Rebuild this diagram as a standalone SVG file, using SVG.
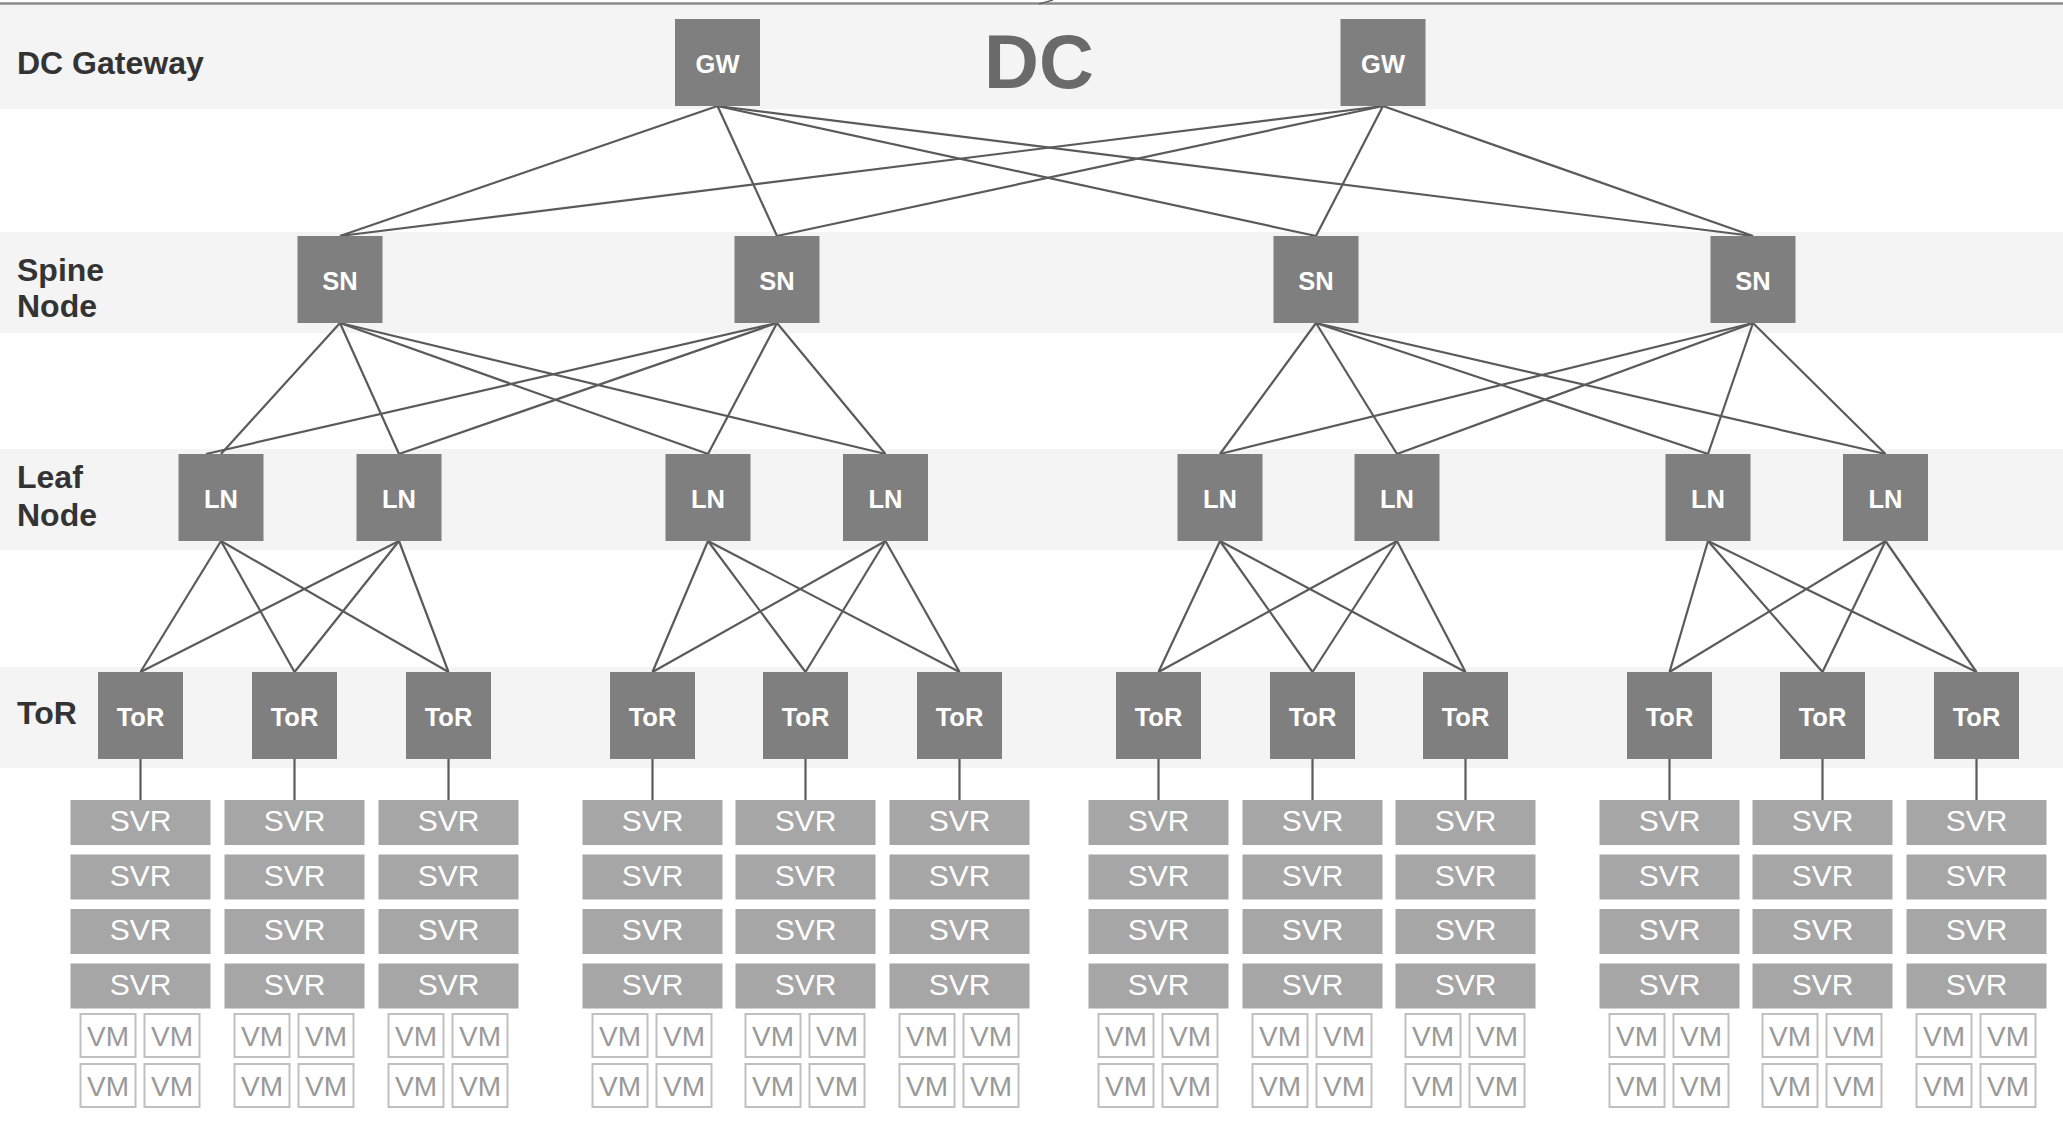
<svg xmlns="http://www.w3.org/2000/svg" width="2063" height="1140" viewBox="0 0 2063 1140">
<style>
.band{fill:#f4f4f4}
.lbl{font-family:"Liberation Sans",Arial,sans-serif;font-weight:bold;font-size:32px;fill:#333333}
.nb{fill:#7f7f7f}
.nt{font-family:"Liberation Sans",Arial,sans-serif;font-weight:bold;font-size:25.5px;fill:#ffffff;text-anchor:middle}
.sb{fill:#a6a6a6}
.st{font-family:"Liberation Sans",Arial,sans-serif;font-size:30px;fill:#ffffff;text-anchor:middle}
.vb{fill:#ffffff;stroke:#c0c0c0;stroke-width:2}
.vt{font-family:"Liberation Sans",Arial,sans-serif;font-size:28px;fill:#999999;text-anchor:middle}
.ln{stroke:#5a5a5a;stroke-width:2.2;fill:none}
</style>
<rect width="2063" height="1140" fill="#ffffff"/>
<g id="bands">
<rect class="band" x="0" y="5" width="2063" height="104"/>
<rect class="band" x="0" y="232" width="2063" height="101"/>
<rect class="band" x="0" y="449" width="2063" height="101"/>
<rect class="band" x="0" y="667" width="2063" height="101"/>
<line x1="0" y1="3.5" x2="2063" y2="3.5" stroke="#8a8a8a" stroke-width="2.5"/>
<line x1="1039" y1="4" x2="1053" y2="0" stroke="#666666" stroke-width="1.5"/>
</g>
<g id="labels">
<text class="lbl" x="17" y="74">DC Gateway</text>
<text class="lbl" x="17" y="281">Spine</text>
<text class="lbl" x="17" y="317">Node</text>
<text class="lbl" x="17" y="488">Leaf</text>
<text class="lbl" x="17" y="526">Node</text>
<text class="lbl" x="17" y="724">ToR</text>
<text x="1039" y="88" font-family="Liberation Sans,Arial,sans-serif" font-weight="bold" font-size="76" fill="#6a6a6a" text-anchor="middle">DC</text>
</g>
<g id="connectors">
<line class="ln" x1="717.5" y1="106" x2="340" y2="236"/>
<line class="ln" x1="717.5" y1="106" x2="777" y2="236"/>
<line class="ln" x1="717.5" y1="106" x2="1316" y2="236"/>
<line class="ln" x1="717.5" y1="106" x2="1753" y2="236"/>
<line class="ln" x1="1383" y1="106" x2="340" y2="236"/>
<line class="ln" x1="1383" y1="106" x2="777" y2="236"/>
<line class="ln" x1="1383" y1="106" x2="1316" y2="236"/>
<line class="ln" x1="1383" y1="106" x2="1753" y2="236"/>
<line class="ln" x1="340" y1="323" x2="221" y2="454"/>
<line class="ln" x1="340" y1="323" x2="399" y2="454"/>
<line class="ln" x1="340" y1="323" x2="708" y2="454"/>
<line class="ln" x1="340" y1="323" x2="885.5" y2="454"/>
<line class="ln" x1="777" y1="323" x2="206" y2="454"/>
<line class="ln" x1="777" y1="323" x2="399" y2="454"/>
<line class="ln" x1="777" y1="323" x2="708" y2="454"/>
<line class="ln" x1="777" y1="323" x2="885.5" y2="454"/>
<line class="ln" x1="1316" y1="323" x2="1220" y2="454"/>
<line class="ln" x1="1316" y1="323" x2="1397" y2="454"/>
<line class="ln" x1="1316" y1="323" x2="1708" y2="454"/>
<line class="ln" x1="1316" y1="323" x2="1885.5" y2="454"/>
<line class="ln" x1="1753" y1="323" x2="1220" y2="454"/>
<line class="ln" x1="1753" y1="323" x2="1397" y2="454"/>
<line class="ln" x1="1753" y1="323" x2="1708" y2="454"/>
<line class="ln" x1="1753" y1="323" x2="1885.5" y2="454"/>
<line class="ln" x1="221" y1="541" x2="140.5" y2="672"/>
<line class="ln" x1="221" y1="541" x2="294.5" y2="672"/>
<line class="ln" x1="221" y1="541" x2="448.5" y2="672"/>
<line class="ln" x1="399" y1="541" x2="140.5" y2="672"/>
<line class="ln" x1="399" y1="541" x2="294.5" y2="672"/>
<line class="ln" x1="399" y1="541" x2="448.5" y2="672"/>
<line class="ln" x1="708" y1="541" x2="652.5" y2="672"/>
<line class="ln" x1="708" y1="541" x2="805.5" y2="672"/>
<line class="ln" x1="708" y1="541" x2="959.5" y2="672"/>
<line class="ln" x1="885.5" y1="541" x2="652.5" y2="672"/>
<line class="ln" x1="885.5" y1="541" x2="805.5" y2="672"/>
<line class="ln" x1="885.5" y1="541" x2="959.5" y2="672"/>
<line class="ln" x1="1220" y1="541" x2="1158.5" y2="672"/>
<line class="ln" x1="1220" y1="541" x2="1312.5" y2="672"/>
<line class="ln" x1="1220" y1="541" x2="1465.5" y2="672"/>
<line class="ln" x1="1397" y1="541" x2="1158.5" y2="672"/>
<line class="ln" x1="1397" y1="541" x2="1312.5" y2="672"/>
<line class="ln" x1="1397" y1="541" x2="1465.5" y2="672"/>
<line class="ln" x1="1708" y1="541" x2="1669.5" y2="672"/>
<line class="ln" x1="1708" y1="541" x2="1822.5" y2="672"/>
<line class="ln" x1="1708" y1="541" x2="1976.5" y2="672"/>
<line class="ln" x1="1885.5" y1="541" x2="1669.5" y2="672"/>
<line class="ln" x1="1885.5" y1="541" x2="1822.5" y2="672"/>
<line class="ln" x1="1885.5" y1="541" x2="1976.5" y2="672"/>
<line class="ln" x1="140.5" y1="759" x2="140.5" y2="800"/>
<line class="ln" x1="294.5" y1="759" x2="294.5" y2="800"/>
<line class="ln" x1="448.5" y1="759" x2="448.5" y2="800"/>
<line class="ln" x1="652.5" y1="759" x2="652.5" y2="800"/>
<line class="ln" x1="805.5" y1="759" x2="805.5" y2="800"/>
<line class="ln" x1="959.5" y1="759" x2="959.5" y2="800"/>
<line class="ln" x1="1158.5" y1="759" x2="1158.5" y2="800"/>
<line class="ln" x1="1312.5" y1="759" x2="1312.5" y2="800"/>
<line class="ln" x1="1465.5" y1="759" x2="1465.5" y2="800"/>
<line class="ln" x1="1669.5" y1="759" x2="1669.5" y2="800"/>
<line class="ln" x1="1822.5" y1="759" x2="1822.5" y2="800"/>
<line class="ln" x1="1976.5" y1="759" x2="1976.5" y2="800"/>
</g>
<g id="gw-1"><rect class="nb" x="675" y="19" width="85" height="87"/><text class="nt" x="717.5" y="73">GW</text></g>
<g id="gw-2"><rect class="nb" x="1340.5" y="19" width="85" height="87"/><text class="nt" x="1383" y="73">GW</text></g>
<g id="sn-1"><rect class="nb" x="297.5" y="236" width="85" height="87"/><text class="nt" x="340" y="290">SN</text></g>
<g id="sn-2"><rect class="nb" x="734.5" y="236" width="85" height="87"/><text class="nt" x="777" y="290">SN</text></g>
<g id="sn-3"><rect class="nb" x="1273.5" y="236" width="85" height="87"/><text class="nt" x="1316" y="290">SN</text></g>
<g id="sn-4"><rect class="nb" x="1710.5" y="236" width="85" height="87"/><text class="nt" x="1753" y="290">SN</text></g>
<g id="ln-1"><rect class="nb" x="178.5" y="454" width="85" height="87"/><text class="nt" x="221" y="508">LN</text></g>
<g id="ln-2"><rect class="nb" x="356.5" y="454" width="85" height="87"/><text class="nt" x="399" y="508">LN</text></g>
<g id="ln-3"><rect class="nb" x="665.5" y="454" width="85" height="87"/><text class="nt" x="708" y="508">LN</text></g>
<g id="ln-4"><rect class="nb" x="843" y="454" width="85" height="87"/><text class="nt" x="885.5" y="508">LN</text></g>
<g id="ln-5"><rect class="nb" x="1177.5" y="454" width="85" height="87"/><text class="nt" x="1220" y="508">LN</text></g>
<g id="ln-6"><rect class="nb" x="1354.5" y="454" width="85" height="87"/><text class="nt" x="1397" y="508">LN</text></g>
<g id="ln-7"><rect class="nb" x="1665.5" y="454" width="85" height="87"/><text class="nt" x="1708" y="508">LN</text></g>
<g id="ln-8"><rect class="nb" x="1843" y="454" width="85" height="87"/><text class="nt" x="1885.5" y="508">LN</text></g>
<g id="tor-1"><rect class="nb" x="98" y="672" width="85" height="87"/><text class="nt" x="140.5" y="726">ToR</text></g>
<g id="tor-2"><rect class="nb" x="252" y="672" width="85" height="87"/><text class="nt" x="294.5" y="726">ToR</text></g>
<g id="tor-3"><rect class="nb" x="406" y="672" width="85" height="87"/><text class="nt" x="448.5" y="726">ToR</text></g>
<g id="tor-4"><rect class="nb" x="610" y="672" width="85" height="87"/><text class="nt" x="652.5" y="726">ToR</text></g>
<g id="tor-5"><rect class="nb" x="763" y="672" width="85" height="87"/><text class="nt" x="805.5" y="726">ToR</text></g>
<g id="tor-6"><rect class="nb" x="917" y="672" width="85" height="87"/><text class="nt" x="959.5" y="726">ToR</text></g>
<g id="tor-7"><rect class="nb" x="1116" y="672" width="85" height="87"/><text class="nt" x="1158.5" y="726">ToR</text></g>
<g id="tor-8"><rect class="nb" x="1270" y="672" width="85" height="87"/><text class="nt" x="1312.5" y="726">ToR</text></g>
<g id="tor-9"><rect class="nb" x="1423" y="672" width="85" height="87"/><text class="nt" x="1465.5" y="726">ToR</text></g>
<g id="tor-10"><rect class="nb" x="1627" y="672" width="85" height="87"/><text class="nt" x="1669.5" y="726">ToR</text></g>
<g id="tor-11"><rect class="nb" x="1780" y="672" width="85" height="87"/><text class="nt" x="1822.5" y="726">ToR</text></g>
<g id="tor-12"><rect class="nb" x="1934" y="672" width="85" height="87"/><text class="nt" x="1976.5" y="726">ToR</text></g>
<g id="rack-1">
<g id="svr-1-1"><rect class="sb" x="70.5" y="800" width="140" height="45"/><text class="st" x="140.5" y="831">SVR</text></g>
<g id="svr-1-2"><rect class="sb" x="70.5" y="854.5" width="140" height="45"/><text class="st" x="140.5" y="885.5">SVR</text></g>
<g id="svr-1-3"><rect class="sb" x="70.5" y="909" width="140" height="45"/><text class="st" x="140.5" y="940">SVR</text></g>
<g id="svr-1-4"><rect class="sb" x="70.5" y="963.5" width="140" height="45"/><text class="st" x="140.5" y="994.5">SVR</text></g>
<g id="vm-1-1"><rect class="vb" x="80.5" y="1014" width="55" height="43"/><text class="vt" x="108" y="1046">VM</text></g>
<g id="vm-1-2"><rect class="vb" x="144.5" y="1014" width="55" height="43"/><text class="vt" x="172" y="1046">VM</text></g>
<g id="vm-1-3"><rect class="vb" x="80.5" y="1064" width="55" height="43"/><text class="vt" x="108" y="1096">VM</text></g>
<g id="vm-1-4"><rect class="vb" x="144.5" y="1064" width="55" height="43"/><text class="vt" x="172" y="1096">VM</text></g>
</g>
<g id="rack-2">
<g id="svr-2-1"><rect class="sb" x="224.5" y="800" width="140" height="45"/><text class="st" x="294.5" y="831">SVR</text></g>
<g id="svr-2-2"><rect class="sb" x="224.5" y="854.5" width="140" height="45"/><text class="st" x="294.5" y="885.5">SVR</text></g>
<g id="svr-2-3"><rect class="sb" x="224.5" y="909" width="140" height="45"/><text class="st" x="294.5" y="940">SVR</text></g>
<g id="svr-2-4"><rect class="sb" x="224.5" y="963.5" width="140" height="45"/><text class="st" x="294.5" y="994.5">SVR</text></g>
<g id="vm-2-1"><rect class="vb" x="234.5" y="1014" width="55" height="43"/><text class="vt" x="262" y="1046">VM</text></g>
<g id="vm-2-2"><rect class="vb" x="298.5" y="1014" width="55" height="43"/><text class="vt" x="326" y="1046">VM</text></g>
<g id="vm-2-3"><rect class="vb" x="234.5" y="1064" width="55" height="43"/><text class="vt" x="262" y="1096">VM</text></g>
<g id="vm-2-4"><rect class="vb" x="298.5" y="1064" width="55" height="43"/><text class="vt" x="326" y="1096">VM</text></g>
</g>
<g id="rack-3">
<g id="svr-3-1"><rect class="sb" x="378.5" y="800" width="140" height="45"/><text class="st" x="448.5" y="831">SVR</text></g>
<g id="svr-3-2"><rect class="sb" x="378.5" y="854.5" width="140" height="45"/><text class="st" x="448.5" y="885.5">SVR</text></g>
<g id="svr-3-3"><rect class="sb" x="378.5" y="909" width="140" height="45"/><text class="st" x="448.5" y="940">SVR</text></g>
<g id="svr-3-4"><rect class="sb" x="378.5" y="963.5" width="140" height="45"/><text class="st" x="448.5" y="994.5">SVR</text></g>
<g id="vm-3-1"><rect class="vb" x="388.5" y="1014" width="55" height="43"/><text class="vt" x="416" y="1046">VM</text></g>
<g id="vm-3-2"><rect class="vb" x="452.5" y="1014" width="55" height="43"/><text class="vt" x="480" y="1046">VM</text></g>
<g id="vm-3-3"><rect class="vb" x="388.5" y="1064" width="55" height="43"/><text class="vt" x="416" y="1096">VM</text></g>
<g id="vm-3-4"><rect class="vb" x="452.5" y="1064" width="55" height="43"/><text class="vt" x="480" y="1096">VM</text></g>
</g>
<g id="rack-4">
<g id="svr-4-1"><rect class="sb" x="582.5" y="800" width="140" height="45"/><text class="st" x="652.5" y="831">SVR</text></g>
<g id="svr-4-2"><rect class="sb" x="582.5" y="854.5" width="140" height="45"/><text class="st" x="652.5" y="885.5">SVR</text></g>
<g id="svr-4-3"><rect class="sb" x="582.5" y="909" width="140" height="45"/><text class="st" x="652.5" y="940">SVR</text></g>
<g id="svr-4-4"><rect class="sb" x="582.5" y="963.5" width="140" height="45"/><text class="st" x="652.5" y="994.5">SVR</text></g>
<g id="vm-4-1"><rect class="vb" x="592.5" y="1014" width="55" height="43"/><text class="vt" x="620" y="1046">VM</text></g>
<g id="vm-4-2"><rect class="vb" x="656.5" y="1014" width="55" height="43"/><text class="vt" x="684" y="1046">VM</text></g>
<g id="vm-4-3"><rect class="vb" x="592.5" y="1064" width="55" height="43"/><text class="vt" x="620" y="1096">VM</text></g>
<g id="vm-4-4"><rect class="vb" x="656.5" y="1064" width="55" height="43"/><text class="vt" x="684" y="1096">VM</text></g>
</g>
<g id="rack-5">
<g id="svr-5-1"><rect class="sb" x="735.5" y="800" width="140" height="45"/><text class="st" x="805.5" y="831">SVR</text></g>
<g id="svr-5-2"><rect class="sb" x="735.5" y="854.5" width="140" height="45"/><text class="st" x="805.5" y="885.5">SVR</text></g>
<g id="svr-5-3"><rect class="sb" x="735.5" y="909" width="140" height="45"/><text class="st" x="805.5" y="940">SVR</text></g>
<g id="svr-5-4"><rect class="sb" x="735.5" y="963.5" width="140" height="45"/><text class="st" x="805.5" y="994.5">SVR</text></g>
<g id="vm-5-1"><rect class="vb" x="745.5" y="1014" width="55" height="43"/><text class="vt" x="773" y="1046">VM</text></g>
<g id="vm-5-2"><rect class="vb" x="809.5" y="1014" width="55" height="43"/><text class="vt" x="837" y="1046">VM</text></g>
<g id="vm-5-3"><rect class="vb" x="745.5" y="1064" width="55" height="43"/><text class="vt" x="773" y="1096">VM</text></g>
<g id="vm-5-4"><rect class="vb" x="809.5" y="1064" width="55" height="43"/><text class="vt" x="837" y="1096">VM</text></g>
</g>
<g id="rack-6">
<g id="svr-6-1"><rect class="sb" x="889.5" y="800" width="140" height="45"/><text class="st" x="959.5" y="831">SVR</text></g>
<g id="svr-6-2"><rect class="sb" x="889.5" y="854.5" width="140" height="45"/><text class="st" x="959.5" y="885.5">SVR</text></g>
<g id="svr-6-3"><rect class="sb" x="889.5" y="909" width="140" height="45"/><text class="st" x="959.5" y="940">SVR</text></g>
<g id="svr-6-4"><rect class="sb" x="889.5" y="963.5" width="140" height="45"/><text class="st" x="959.5" y="994.5">SVR</text></g>
<g id="vm-6-1"><rect class="vb" x="899.5" y="1014" width="55" height="43"/><text class="vt" x="927" y="1046">VM</text></g>
<g id="vm-6-2"><rect class="vb" x="963.5" y="1014" width="55" height="43"/><text class="vt" x="991" y="1046">VM</text></g>
<g id="vm-6-3"><rect class="vb" x="899.5" y="1064" width="55" height="43"/><text class="vt" x="927" y="1096">VM</text></g>
<g id="vm-6-4"><rect class="vb" x="963.5" y="1064" width="55" height="43"/><text class="vt" x="991" y="1096">VM</text></g>
</g>
<g id="rack-7">
<g id="svr-7-1"><rect class="sb" x="1088.5" y="800" width="140" height="45"/><text class="st" x="1158.5" y="831">SVR</text></g>
<g id="svr-7-2"><rect class="sb" x="1088.5" y="854.5" width="140" height="45"/><text class="st" x="1158.5" y="885.5">SVR</text></g>
<g id="svr-7-3"><rect class="sb" x="1088.5" y="909" width="140" height="45"/><text class="st" x="1158.5" y="940">SVR</text></g>
<g id="svr-7-4"><rect class="sb" x="1088.5" y="963.5" width="140" height="45"/><text class="st" x="1158.5" y="994.5">SVR</text></g>
<g id="vm-7-1"><rect class="vb" x="1098.5" y="1014" width="55" height="43"/><text class="vt" x="1126" y="1046">VM</text></g>
<g id="vm-7-2"><rect class="vb" x="1162.5" y="1014" width="55" height="43"/><text class="vt" x="1190" y="1046">VM</text></g>
<g id="vm-7-3"><rect class="vb" x="1098.5" y="1064" width="55" height="43"/><text class="vt" x="1126" y="1096">VM</text></g>
<g id="vm-7-4"><rect class="vb" x="1162.5" y="1064" width="55" height="43"/><text class="vt" x="1190" y="1096">VM</text></g>
</g>
<g id="rack-8">
<g id="svr-8-1"><rect class="sb" x="1242.5" y="800" width="140" height="45"/><text class="st" x="1312.5" y="831">SVR</text></g>
<g id="svr-8-2"><rect class="sb" x="1242.5" y="854.5" width="140" height="45"/><text class="st" x="1312.5" y="885.5">SVR</text></g>
<g id="svr-8-3"><rect class="sb" x="1242.5" y="909" width="140" height="45"/><text class="st" x="1312.5" y="940">SVR</text></g>
<g id="svr-8-4"><rect class="sb" x="1242.5" y="963.5" width="140" height="45"/><text class="st" x="1312.5" y="994.5">SVR</text></g>
<g id="vm-8-1"><rect class="vb" x="1252.5" y="1014" width="55" height="43"/><text class="vt" x="1280" y="1046">VM</text></g>
<g id="vm-8-2"><rect class="vb" x="1316.5" y="1014" width="55" height="43"/><text class="vt" x="1344" y="1046">VM</text></g>
<g id="vm-8-3"><rect class="vb" x="1252.5" y="1064" width="55" height="43"/><text class="vt" x="1280" y="1096">VM</text></g>
<g id="vm-8-4"><rect class="vb" x="1316.5" y="1064" width="55" height="43"/><text class="vt" x="1344" y="1096">VM</text></g>
</g>
<g id="rack-9">
<g id="svr-9-1"><rect class="sb" x="1395.5" y="800" width="140" height="45"/><text class="st" x="1465.5" y="831">SVR</text></g>
<g id="svr-9-2"><rect class="sb" x="1395.5" y="854.5" width="140" height="45"/><text class="st" x="1465.5" y="885.5">SVR</text></g>
<g id="svr-9-3"><rect class="sb" x="1395.5" y="909" width="140" height="45"/><text class="st" x="1465.5" y="940">SVR</text></g>
<g id="svr-9-4"><rect class="sb" x="1395.5" y="963.5" width="140" height="45"/><text class="st" x="1465.5" y="994.5">SVR</text></g>
<g id="vm-9-1"><rect class="vb" x="1405.5" y="1014" width="55" height="43"/><text class="vt" x="1433" y="1046">VM</text></g>
<g id="vm-9-2"><rect class="vb" x="1469.5" y="1014" width="55" height="43"/><text class="vt" x="1497" y="1046">VM</text></g>
<g id="vm-9-3"><rect class="vb" x="1405.5" y="1064" width="55" height="43"/><text class="vt" x="1433" y="1096">VM</text></g>
<g id="vm-9-4"><rect class="vb" x="1469.5" y="1064" width="55" height="43"/><text class="vt" x="1497" y="1096">VM</text></g>
</g>
<g id="rack-10">
<g id="svr-10-1"><rect class="sb" x="1599.5" y="800" width="140" height="45"/><text class="st" x="1669.5" y="831">SVR</text></g>
<g id="svr-10-2"><rect class="sb" x="1599.5" y="854.5" width="140" height="45"/><text class="st" x="1669.5" y="885.5">SVR</text></g>
<g id="svr-10-3"><rect class="sb" x="1599.5" y="909" width="140" height="45"/><text class="st" x="1669.5" y="940">SVR</text></g>
<g id="svr-10-4"><rect class="sb" x="1599.5" y="963.5" width="140" height="45"/><text class="st" x="1669.5" y="994.5">SVR</text></g>
<g id="vm-10-1"><rect class="vb" x="1609.5" y="1014" width="55" height="43"/><text class="vt" x="1637" y="1046">VM</text></g>
<g id="vm-10-2"><rect class="vb" x="1673.5" y="1014" width="55" height="43"/><text class="vt" x="1701" y="1046">VM</text></g>
<g id="vm-10-3"><rect class="vb" x="1609.5" y="1064" width="55" height="43"/><text class="vt" x="1637" y="1096">VM</text></g>
<g id="vm-10-4"><rect class="vb" x="1673.5" y="1064" width="55" height="43"/><text class="vt" x="1701" y="1096">VM</text></g>
</g>
<g id="rack-11">
<g id="svr-11-1"><rect class="sb" x="1752.5" y="800" width="140" height="45"/><text class="st" x="1822.5" y="831">SVR</text></g>
<g id="svr-11-2"><rect class="sb" x="1752.5" y="854.5" width="140" height="45"/><text class="st" x="1822.5" y="885.5">SVR</text></g>
<g id="svr-11-3"><rect class="sb" x="1752.5" y="909" width="140" height="45"/><text class="st" x="1822.5" y="940">SVR</text></g>
<g id="svr-11-4"><rect class="sb" x="1752.5" y="963.5" width="140" height="45"/><text class="st" x="1822.5" y="994.5">SVR</text></g>
<g id="vm-11-1"><rect class="vb" x="1762.5" y="1014" width="55" height="43"/><text class="vt" x="1790" y="1046">VM</text></g>
<g id="vm-11-2"><rect class="vb" x="1826.5" y="1014" width="55" height="43"/><text class="vt" x="1854" y="1046">VM</text></g>
<g id="vm-11-3"><rect class="vb" x="1762.5" y="1064" width="55" height="43"/><text class="vt" x="1790" y="1096">VM</text></g>
<g id="vm-11-4"><rect class="vb" x="1826.5" y="1064" width="55" height="43"/><text class="vt" x="1854" y="1096">VM</text></g>
</g>
<g id="rack-12">
<g id="svr-12-1"><rect class="sb" x="1906.5" y="800" width="140" height="45"/><text class="st" x="1976.5" y="831">SVR</text></g>
<g id="svr-12-2"><rect class="sb" x="1906.5" y="854.5" width="140" height="45"/><text class="st" x="1976.5" y="885.5">SVR</text></g>
<g id="svr-12-3"><rect class="sb" x="1906.5" y="909" width="140" height="45"/><text class="st" x="1976.5" y="940">SVR</text></g>
<g id="svr-12-4"><rect class="sb" x="1906.5" y="963.5" width="140" height="45"/><text class="st" x="1976.5" y="994.5">SVR</text></g>
<g id="vm-12-1"><rect class="vb" x="1916.5" y="1014" width="55" height="43"/><text class="vt" x="1944" y="1046">VM</text></g>
<g id="vm-12-2"><rect class="vb" x="1980.5" y="1014" width="55" height="43"/><text class="vt" x="2008" y="1046">VM</text></g>
<g id="vm-12-3"><rect class="vb" x="1916.5" y="1064" width="55" height="43"/><text class="vt" x="1944" y="1096">VM</text></g>
<g id="vm-12-4"><rect class="vb" x="1980.5" y="1064" width="55" height="43"/><text class="vt" x="2008" y="1096">VM</text></g>
</g>
</svg>
